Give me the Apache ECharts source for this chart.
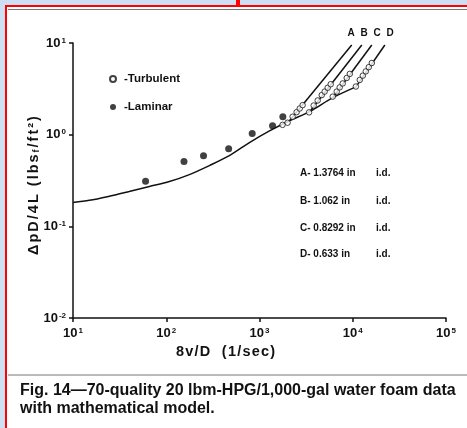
<!DOCTYPE html>
<html>
<head>
<meta charset="utf-8">
<script src="https://cdn.jsdelivr.net/npm/echarts@6/dist/echarts.min.js"></script>
<style>
  html, body { margin: 0; padding: 0; background: #fff; }
  #mybox { width: 467px; height: 428px; }
</style>
</head>
<body>
<div id="mybox"></div>
<script>
// model curve (laminar part)
var modelX = [10, 15, 24, 40, 66, 108, 177, 290, 475, 780, 1280, 2100, 3450, 6100, 10800];
var modelY = [0.182, 0.192, 0.212, 0.24, 0.272, 0.308, 0.367, 0.46, 0.59, 0.82, 1.1, 1.42, 1.78, 2.53, 3.32];

// turbulent branches A-D (start on model curve, end at top)
var lineA = [[2100, 1.42], [9750, 9.5]];
var lineB = [[3450, 1.78], [12500, 9.5]];
var lineC = [[6100, 2.53], [16000, 9.5]];
var lineD = [[10800, 3.32], [22100, 9.5]];
var branchNames = ['A', 'B', 'C', 'D'];

// measured points
var laminarX = [60, 155, 251, 467, 835, 1380, 1780];
var laminarY = [0.31, 0.51, 0.59, 0.70, 1.03, 1.25, 1.57];

var turbX = [1766, 2000, 2265, 2500, 2700, 2900,
             3400, 3810, 4210, 4650, 5000, 5390, 5800,
             6100, 6730, 7245, 7800, 8610, 9290,
             10800, 11880, 12820, 13800, 14860, 16000];
var turbY = [1.28, 1.35, 1.57, 1.76, 1.93, 2.1,
             1.75, 2.08, 2.36, 2.70, 2.95, 3.25, 3.55,
             2.6, 2.95, 3.28, 3.62, 4.15, 4.6,
             3.35, 3.95, 4.4, 4.9, 5.45, 6.05];

var diaLabels = ['A- 1.3764 in', 'B- 1.062 in', 'C- 0.8292 in', 'D- 0.633 in'];

function zip(xs, ys) {
    return xs.map(function (x, i) { return [x, ys[i]]; });
}

function powLabel(v) {
    var e = Math.round(Math.log(v) / Math.LN10);
    return '{a|10}{b|' + e + '}';
}

// wide letter spacing like the printed figure: one rich token per char
function spaced(str, key) {
    return str.split('').map(function (c) { return '{' + key + '|' + c + '}'; }).join('');
}

var tickRich = {
    a: { fontSize: 13, fontWeight: 'bold', fontFamily: 'Liberation Sans', color: '#111' },
    b: { fontSize: 8, fontWeight: 'bold', fontFamily: 'Liberation Sans', color: '#111', verticalAlign: 'top', padding: [0, 0, 0, 1] }
};

var mycharts = echarts.init(document.getElementById('mybox'));

var branchSeries = [lineA, lineB, lineC, lineD].map(function (d, i) {
    return {
        name: branchNames[i],
        type: 'line',
        data: d,
        symbol: 'none',
        lineStyle: { color: '#111', width: 1.5 },
        z: 3
    };
});

var gfx = [
    { type: 'rect', shape: { x: 0, y: 0, width: 5, height: 428 }, style: { fill: '#cddff3' } },
    { type: 'rect', shape: { x: 0, y: 0, width: 467, height: 5 }, style: { fill: '#cddff3' } },
    { type: 'line', shape: { x1: 6, y1: 5, x2: 6, y2: 428 }, style: { stroke: '#ff0000', lineWidth: 2 } },
    { type: 'line', shape: { x1: 5, y1: 6, x2: 467, y2: 6 }, style: { stroke: '#ff0000', lineWidth: 2 } },
    { type: 'rect', shape: { x: 236, y: 0, width: 4, height: 6 }, style: { fill: '#ff0000' } },
    { type: 'line', shape: { x1: 8, y1: 9.5, x2: 467, y2: 9.5 }, style: { stroke: '#777', lineWidth: 1 } },
    { type: 'line', shape: { x1: 8, y1: 375, x2: 467, y2: 375 }, style: { stroke: '#777', lineWidth: 1 } },
    {
        type: 'text', left: 20, top: 382,
        style: {
            text: 'Fig. 14\u201470-quality 20 lbm-HPG/1,000-gal water foam data\nwith mathematical model.',
            font: 'bold 16px "Liberation Sans"', fill: '#111', lineHeight: 18
        }
    }
];
// A B C D above the lines
var abcX = [351, 364, 377, 390];
branchNames.forEach(function (n, i) {
    gfx.push({ type: 'text', x: abcX[i], y: 33, style: { text: n, font: 'bold 10px "Liberation Sans"', fill: '#111', align: 'center', verticalAlign: 'middle' } });
});
// pipe diameters
var diaY = [173, 201, 228, 254];
diaLabels.forEach(function (t, i) {
    gfx.push({ type: 'text', x: 300, y: diaY[i], style: { text: t, font: 'bold 10px "Liberation Sans"', fill: '#111', verticalAlign: 'middle' } });
    gfx.push({ type: 'text', x: 376, y: diaY[i], style: { text: 'i.d.', font: 'bold 10px "Liberation Sans"', fill: '#111', verticalAlign: 'middle' } });
});

var nameFont = { fontSize: 14.5, fontWeight: 'bold', fontFamily: 'Liberation Sans', color: '#111' };

var optionObj = {
    backgroundColor: '#fff',
    animation: false,
    grid: { left: 73, right: 21, top: 43, bottom: 110 },
    legend: {
        data: ['Turbulent', 'Laminar'],
        orient: 'vertical',
        left: 109, top: 73,
        padding: 0,
        itemWidth: 6, itemHeight: 6,
        itemGap: 16,
        formatter: function (n) { return '-' + n; },
        textStyle: { fontSize: 11.5, fontWeight: 'bold', fontFamily: 'Liberation Sans', color: '#111', padding: [0, 0, 0, 3] }
    },
    xAxis: {
        type: 'log', min: 10, max: 100000, logBase: 10,
        name: spaced('8v/D  (1/sec)', 'n'), nameLocation: 'middle', nameGap: 26,
        nameMoveOverlap: false,
        nameTextStyle: {
            padding: [0, 68, 0, 0],
            rich: { n: echarts.util.extend({ padding: [0, 0.6, 0, 0.6] }, nameFont) }
        },
        axisLine: { lineStyle: { color: '#111', width: 1.5 } },
        axisTick: { length: 4, lineStyle: { color: '#111', width: 1.5 } },
        axisLabel: { formatter: powLabel, rich: tickRich, margin: 9 },
        splitLine: { show: false }
    },
    yAxis: {
        type: 'log', min: 0.01, max: 10, logBase: 10,
        name: spaced('\u0394pD/4L (lbs', 'n') + '{s|f}' + spaced('/ft\u00b2)', 'n'),
        nameLocation: 'middle', nameGap: 32, nameRotate: 90,
        nameMoveOverlap: false,
        nameTextStyle: {
            padding: [0, 10, 0, 0],
            rich: {
                n: echarts.util.extend({ padding: [0, 1, 0, 1] }, nameFont),
                s: { fontSize: 9, fontWeight: 'bold', fontFamily: 'Liberation Sans', color: '#111', verticalAlign: 'bottom', padding: [0, 1, 0, 1] }
            }
        },
        axisLine: { lineStyle: { color: '#111', width: 1.5 } },
        axisTick: { length: 4, lineStyle: { color: '#111', width: 1.5 } },
        axisLabel: { formatter: powLabel, rich: tickRich, margin: 7 },
        splitLine: { show: false }
    },
    graphic: gfx,
    series: [
        {
            name: 'model',
            type: 'line',
            data: zip(modelX, modelY),
            smooth: 0.3,
            symbol: 'none',
            lineStyle: { color: '#111', width: 1.5 },
            z: 3
        }
    ].concat(branchSeries).concat([
        {
            name: 'Laminar',
            type: 'scatter',
            data: zip(laminarX, laminarY),
            symbol: 'circle',
            symbolSize: 7,
            itemStyle: { color: '#111' },
            z: 4
        },
        {
            name: 'Turbulent',
            type: 'scatter',
            data: zip(turbX, turbY),
            symbol: 'circle',
            symbolSize: 5.5,
            itemStyle: { color: '#fff', borderColor: '#111', borderWidth: 1 },
            z: 5
        }
    ])
};

mycharts.setOption(optionObj);
</script>
</body>
</html>
